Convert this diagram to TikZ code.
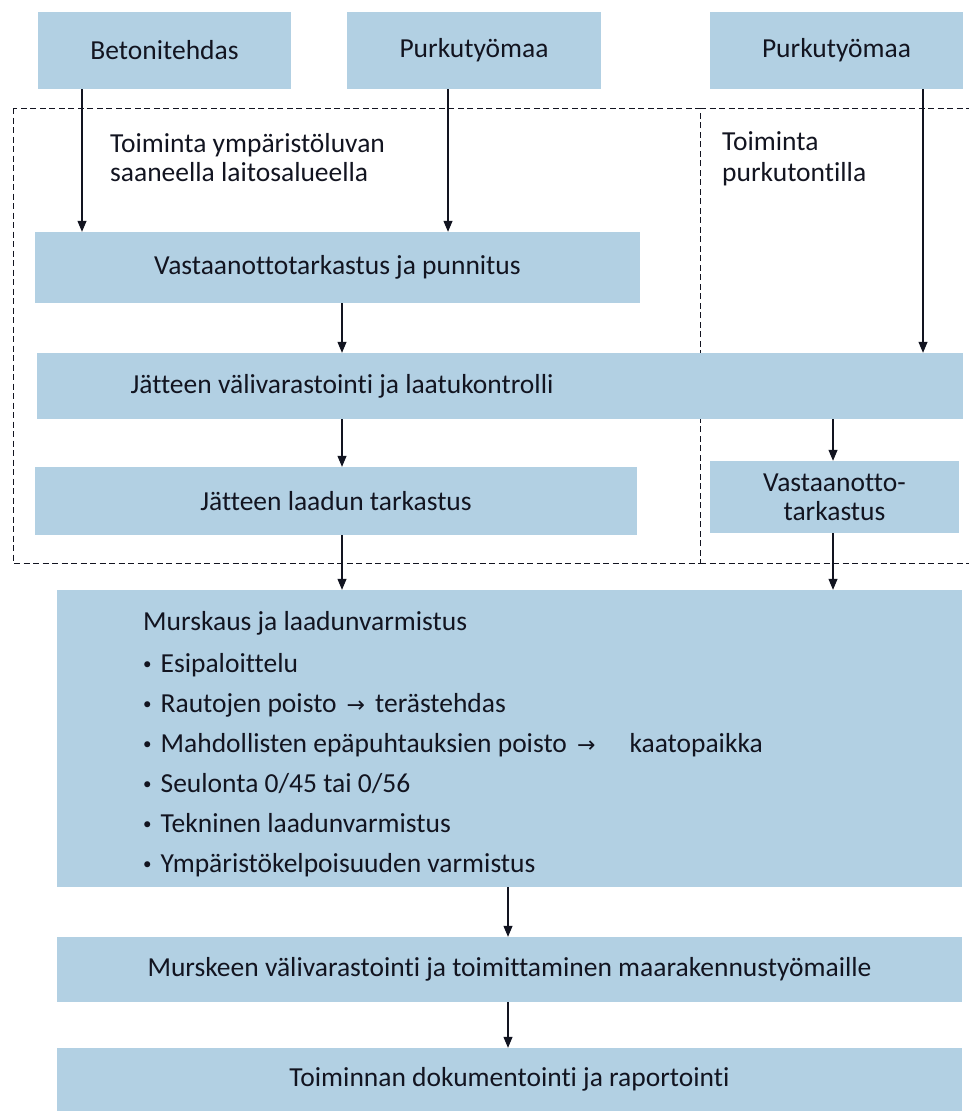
\documentclass[tikz,border=0pt]{standalone}
\usepackage{fontspec}
\setmainfont[Ligatures=NoCommon]{Carlito}
\newfontfamily\symf{DejaVu Sans}
\usetikzlibrary{arrows.meta}
\definecolor{boxblue}{RGB}{178,208,227}
\definecolor{ink}{RGB}{18,20,32}
\newcommand{\bul}{\raisebox{3pt}{\fontsize{17}{17}\selectfont•}\hspace{9pt}}
\newcommand{\rarr}{{\symf\fontsize{22}{22}\selectfont →}}
\begin{document}
\begin{tikzpicture}[x=1pt,y=-1pt,
  box/.style={fill=boxblue, draw=none, inner sep=0pt, font=\fontsize{27.5}{29}\selectfont, text=ink, align=center},
  txt/.style={font=\fontsize{27.5}{29}\selectfont, text=ink, inner sep=0pt},
  lbl/.style={txt, anchor=base west},
  arr/.style={-{Triangle[length=11pt,width=9pt]}, line width=1.1pt, draw=ink},
  zone/.style={line width=0.9pt, draw=ink, dash pattern=on 6pt off 3.5pt}]
\useasboundingbox (0,0) rectangle (969,1111);
% x positions of connectors
\coordinate (xa) at (82,0);
\coordinate (xb) at (448,0);
\coordinate (xc) at (923,0);
\coordinate (xd) at (342,0);
\coordinate (xe) at (833,0);
\coordinate (xf) at (508,0);
% zones
\draw[zone] (13,108) rectangle (700,563);
\coordinate (zr1) at (969,108);
\coordinate (zr2) at (969,563);
\draw[zone] (700,108) -- (zr1);
\draw[zone] (700,563) -- (zr2);
\node[lbl] (zl1) at (110,152) {Toiminta ympäristöluvan};
\node[lbl] (zl2) at (110,181) {saaneella laitosalueella};
\node[lbl] (zr1t) at (722,150) {Toiminta};
\node[lbl] (zr2t) at (722,181) {purkutontilla};
% boxes
\node[box, minimum width=253pt, minimum height=77pt] (beton) at (164.5,50.5) {Betonitehdas};
\node[box, minimum width=254pt, minimum height=77pt] (purk1) at (474,50.5) {Purkutyömaa};
\node[box, minimum width=253pt, minimum height=77pt] (purk2) at (836.5,50.5) {Purkutyömaa};
\node[box, minimum width=605pt, minimum height=71pt] (vast) at (337.5,267.5) {Vastaanottotarkastus ja punnitus};
\node[box, minimum width=926pt, minimum height=66pt] (vv) at (500,386) {};
\node[txt] (vvt) at (342,386) {Jätteen välivarastointi ja laatukontrolli};
\node[box, minimum width=602pt, minimum height=68pt] (jlt) at (336,501) {Jätteen laadun tarkastus};
\node[box, minimum width=249pt, minimum height=72pt] (vt) at (834.5,497) {Vastaanotto-\\tarkastus};
\node[box, minimum width=905pt, minimum height=297pt] (mur) at (509.5,738.5) {};
\node[lbl] (m0) at (143,630) {Murskaus ja laadunvarmistus};
\node[lbl] (m1) at (143,672) {\bul Esipaloittelu};
\node[lbl] (m2) at (143,712) {\bul Rautojen poisto\hspace{10pt}\rarr\hspace{10pt}terästehdas};
\node[lbl] (m3) at (143,752) {\bul Mahdollisten epäpuhtauksien poisto\hspace{10pt}\rarr\hspace{34pt}kaatopaikka};
\node[lbl] (m4) at (143,792) {\bul Seulonta 0/45 tai 0/56};
\node[lbl] (m5) at (143,832) {\bul Tekninen laadunvarmistus};
\node[lbl] (m6) at (143,872) {\bul Ympäristökelpoisuuden varmistus};
\node[box, minimum width=905pt, minimum height=65pt] (murv) at (509.5,969.5) {Murskeen välivarastointi ja toimittaminen maarakennustyömaille};
\node[box, minimum width=905pt, minimum height=63pt] (dok) at (509.5,1079.5) {Toiminnan dokumentointi ja raportointi};
% connectors
\draw[arr] (beton.south -| xa) -- (vast.north -| xa);
\draw[arr] (purk1.south -| xb) -- (vast.north -| xb);
\draw[arr] (purk2.south -| xc) -- (vv.north -| xc);
\draw[arr] (vast.south -| xd) -- (vv.north -| xd);
\draw[arr] (vv.south -| xd) -- (jlt.north -| xd);
\draw[arr] (vv.south -| xe) -- (vt.north -| xe);
\draw[arr] (jlt.south -| xd) -- (mur.north -| xd);
\draw[arr] (vt.south -| xe) -- (mur.north -| xe);
\draw[arr] (mur.south -| xf) -- (murv.north -| xf);
\draw[arr] (murv.south -| xf) -- (dok.north -| xf);
\end{tikzpicture}
\end{document}
